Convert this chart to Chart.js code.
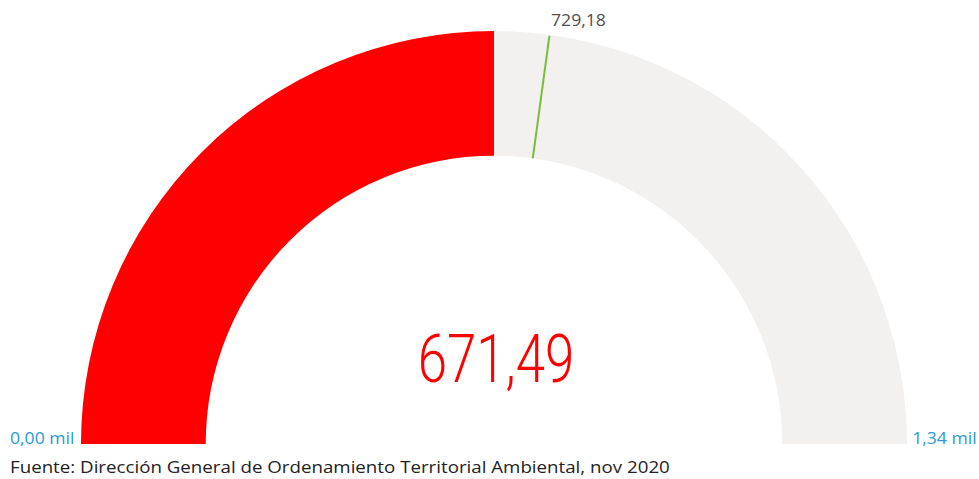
<!DOCTYPE html>
<html>
<head>
<meta charset="utf-8">
<script src="https://cdn.jsdelivr.net/npm/chart.js@4.4.1/dist/chart.umd.min.js"></script>
<style>
  html, body { margin: 0; padding: 0; background: #fff; }
  body { width: 979px; height: 479px; position: relative; overflow: hidden; font-family: "Open Sans", "Noto Sans", sans-serif; }
  #wrap { position: absolute; left: 81px; top: 31px; width: 826px; height: 413px; }
  .lbl { position: absolute; font-size: 16px; color: #2a9ad8; white-space: nowrap; transform: scaleX(1.1); }
  #minLbl { transform-origin: left center; }
  #maxLbl { transform-origin: right center; }
  #source { position: absolute; left: 10px; top: 455px; font-size: 16.5px; color: #222; white-space: nowrap; transform: scaleX(1.134); transform-origin: left center; }
</style>
</head>
<body>
<div id="wrap"><canvas id="gauge"></canvas></div>
<div id="minLbl" class="lbl" style="left:10px; top:427px;"></div>
<div id="maxLbl" class="lbl" style="right:2px; top:427px;"></div>
<div id="source"></div>
<script>
// Gauge values (Power BI style: max defaults to twice the value)
const gaugeValue = 671.49;
const gaugeMin = 0;
const gaugeMax = 1342.98;
const gaugeTarget = 729.18;
const tickLabels = ['0,00 mil', '1,34 mil'];
const sourceText = 'Fuente: Dirección General de Ordenamiento Territorial Ambiental, nov 2020';

const fmt = v => v.toFixed(2).replace('.', ',');

document.getElementById('minLbl').textContent = tickLabels[0];
document.getElementById('maxLbl').textContent = tickLabels[1];
document.getElementById('source').textContent = sourceText;

// target needle + centre value drawn from the arc geometry
const gaugeExtras = {
  id: 'gaugeExtras',
  afterDatasetsDraw(chart) {
    const arc = chart.getDatasetMeta(0).data[0];
    if (!arc) return;
    const { ctx } = chart;
    const { x, y, innerRadius, outerRadius } = arc.getProps(['x', 'y', 'innerRadius', 'outerRadius'], true);
    const start = -Math.PI;
    const ang = start + Math.PI * (gaugeTarget - gaugeMin) / (gaugeMax - gaugeMin);

    ctx.save();
    ctx.strokeStyle = '#7cbb3a';
    ctx.lineWidth = 2;
    ctx.beginPath();
    ctx.moveTo(x + Math.cos(ang) * innerRadius, y + Math.sin(ang) * innerRadius);
    ctx.lineTo(x + Math.cos(ang) * (outerRadius - 1), y + Math.sin(ang) * (outerRadius - 1));
    ctx.stroke();

    ctx.fillStyle = '#ff0000';
    ctx.textAlign = 'center';
    ctx.textBaseline = 'alphabetic';
    ctx.translate(x + 2, y - 62);
    ctx.scale(0.8, 1);
    ctx.font = '300 66px Roboto';
    ctx.fillText(fmt(gaugeValue), 0, 0);
    ctx.restore();
  }
};

new Chart(document.getElementById('gauge'), {
  type: 'doughnut',
  data: {
    labels: ['Valor', 'Resto'],
    datasets: [{
      data: [gaugeValue - gaugeMin, gaugeMax - gaugeValue],
      backgroundColor: ['#ff0000', '#f2f1f0'],
      borderWidth: 0,
    }],
  },
  options: {
    responsive: true,
    maintainAspectRatio: false,
    animation: false,
    rotation: -90,
    circumference: 180,
    cutout: '69.8%',
    layout: { padding: 0 },
    plugins: { legend: { display: false }, tooltip: { enabled: false } },
  },
  plugins: [gaugeExtras],
});

// target label above the needle
const tgt = document.createElement('div');
tgt.className = 'lbl';
tgt.style.color = '#505050';
tgt.style.left = '551px';
tgt.style.top = '9px';
tgt.style.transformOrigin = 'left center';
tgt.textContent = fmt(gaugeTarget);
document.body.appendChild(tgt);
</script>
</body>
</html>
